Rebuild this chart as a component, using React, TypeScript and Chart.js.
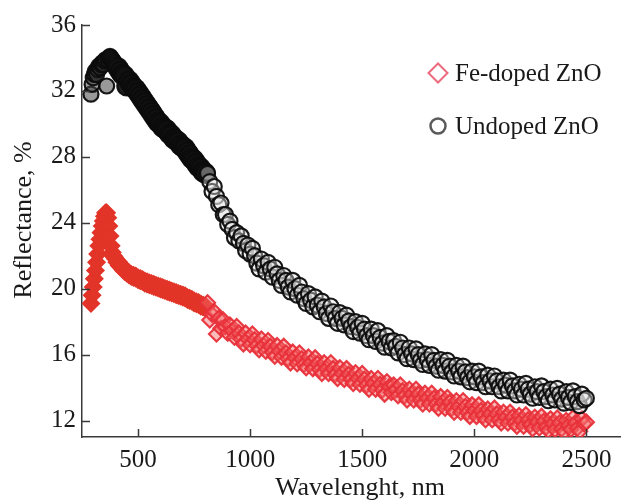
import React, { useEffect, useRef } from 'react';
import { Chart, registerables } from 'chart.js';

Chart.register(...registerables);

// ---------------- data ----------------
const WAVELENGTHS = [
  290, 295, 300, 305, 310, 315, 320, 325, 330, 335, 340, 345, 350, 355, 360, 365, 370, 375, 380, 385, 390, 395, 400,
  410, 420, 430, 440, 450, 460, 470, 480, 490, 500, 510, 520, 530, 540, 550, 560, 570, 580, 590, 600,
  610, 620, 630, 640, 650, 660, 670, 680, 690, 700, 710, 720, 730, 740, 750, 760, 770, 780, 790, 800,
  810, 820, 830, 840, 850, 860, 870, 880, 890, 900,
  910, 920, 930, 940, 950, 960, 970, 980, 990, 1000,
  1010, 1020, 1030, 1040, 1050, 1060, 1070, 1080, 1090, 1100,
  1110, 1120, 1130, 1140, 1150, 1160, 1170, 1180, 1190, 1200,
  1210, 1220, 1230, 1240, 1250, 1260, 1270, 1280, 1290, 1300,
  1310, 1320, 1330, 1340, 1350, 1360, 1370, 1380, 1390, 1400,
  1410, 1420, 1430, 1440, 1450, 1460, 1470, 1480, 1490, 1500,
  1510, 1520, 1530, 1540, 1550, 1560, 1570, 1580, 1590, 1600,
  1610, 1620, 1630, 1640, 1650, 1660, 1670, 1680, 1690, 1700,
  1710, 1720, 1730, 1740, 1750, 1760, 1770, 1780, 1790, 1800,
  1810, 1820, 1830, 1840, 1850, 1860, 1870, 1880, 1890, 1900,
  1910, 1920, 1930, 1940, 1950, 1960, 1970, 1980, 1990, 2000,
  2010, 2020, 2030, 2040, 2050, 2060, 2070, 2080, 2090, 2100,
  2110, 2120, 2130, 2140, 2150, 2160, 2170, 2180, 2190, 2200,
  2210, 2220, 2230, 2240, 2250, 2260, 2270, 2280, 2290, 2300,
  2310, 2320, 2330, 2340, 2350, 2360, 2370, 2380, 2390, 2400,
  2410, 2420, 2430, 2440, 2450, 2460, 2470, 2480, 2490, 2500,
];

const FE_DOPED = [
  19.1, 19.6, 20.1, 20.6, 21.1, 21.6, 22.1, 22.6, 23.0, 23.4, 23.8, 24.1, 24.4, 24.6, 24.6, 24.3, 23.8, 23.2, 22.6, 22.2, 22.0, 21.9, 21.8,
  21.6, 21.4, 21.3, 21.1, 21.0, 20.9, 20.8, 20.75, 20.7, 20.6, 20.55, 20.5, 20.4, 20.35, 20.3, 20.25, 20.2, 20.15, 20.1, 20.05,
  20.0, 19.95, 19.9, 19.85, 19.8, 19.75, 19.7, 19.65, 19.6, 19.55, 19.5, 19.4, 19.35, 19.3, 19.2, 19.15, 19.1, 19.0, 18.95, 18.9,
  19.15, 18.1, 18.45, 18.6, 17.25, 18.2, 17.6, 18.1, 17.7, 17.3,
  17.8, 17.45, 17.05, 17.7, 17.3, 16.95, 16.65, 17.3, 16.95, 16.6,
  17.25, 16.9, 16.55, 16.3, 16.95, 16.55, 16.2, 16.85, 16.5, 16.15,
  15.9, 16.55, 16.2, 15.85, 16.5, 16.1, 15.75, 15.5, 16.15, 15.8,
  15.45, 16.1, 15.75, 15.4, 15.2, 15.85, 15.5, 15.15, 15.8, 15.45,
  15.1, 14.85, 15.5, 15.15, 14.85, 15.5, 15.15, 14.8, 14.55, 15.2,
  14.85, 14.5, 15.15, 14.8, 14.5, 14.25, 14.9, 14.55, 14.2, 14.85,
  14.5, 14.15, 13.9, 14.55, 14.25, 13.9, 14.55, 14.2, 13.85, 13.6,
  14.35, 14.05, 13.7, 14.15, 13.85, 13.5, 14.15, 13.8, 13.5, 13.25,
  13.9, 13.6, 13.25, 13.9, 13.6, 13.25, 13.0, 13.65, 13.35, 13.0,
  13.65, 13.35, 13.0, 12.75, 13.45, 13.1, 12.75, 13.4, 13.1, 12.75,
  12.5, 13.2, 12.85, 12.5, 13.2, 12.85, 12.5, 12.25, 12.95, 12.6,
  12.25, 12.95, 12.6, 12.3, 12.05, 12.7, 12.4, 12.05, 12.75, 12.4,
  12.05, 11.85, 12.5, 12.2, 11.85, 12.5, 12.2, 11.85, 11.65, 12.3,
  12.0, 11.65, 12.35, 12.05, 11.75, 11.5, 12.2, 11.9, 11.55, 12.25,
  11.95, 11.6, 11.4, 12.1, 11.8, 11.45, 12.15, 11.85, 11.5, 11.3,
  12.0, 11.7, 11.45, 12.15, 11.85, 11.55, 11.35, 12.1, 11.8, 11.9,
];

const UNDOPED = [
  31.8, 32.4, 32.8, 33.0, 33.2, 33.0, 33.3, 33.5, 33.4, 33.6, 33.7, 33.6, 33.8, 33.9, 32.3, 33.9, 34.0, 34.1, 34.0, 33.9, 33.8, 33.7, 33.6,
  33.4, 33.2, 33.0, 32.9, 32.3, 32.6, 32.4, 32.2, 32.1, 31.9, 31.7, 31.5, 31.3, 31.1, 30.9, 30.7, 30.5, 30.3, 30.1, 30.0,
  29.8, 29.7, 29.6, 29.4, 29.3, 29.1, 29.0, 28.9, 28.7, 28.6, 28.5, 28.3, 28.1, 27.9, 27.8, 27.6, 27.4, 27.3, 27.1, 27.0,
  27.0, 26.5, 25.9, 26.2, 25.6, 25.1, 25.2, 24.5, 24.5, 23.9,
  24.1, 23.6, 23.1, 23.4, 22.9, 23.2, 22.75, 22.3, 22.65, 22.1,
  22.45, 22.0, 21.55, 21.2, 21.8, 21.4, 21.0, 21.6, 21.2, 20.7,
  21.3, 20.9, 20.5, 20.2, 20.8, 20.5, 20.1, 19.8, 20.5, 20.0,
  19.6, 20.2, 19.8, 19.4, 19.1, 19.7, 19.3, 18.9, 19.5, 19.0,
  18.6, 19.25, 18.9, 18.5, 18.2, 18.95, 18.6, 18.2, 17.9, 18.55,
  18.2, 17.8, 18.4, 18.05, 17.7, 17.4, 18.0, 17.65, 17.3, 17.9,
  17.55, 17.15, 16.9, 17.55, 17.15, 16.8, 17.45, 17.05, 16.7, 16.45,
  17.15, 16.8, 16.4, 16.85, 16.5, 16.1, 16.75, 16.4, 16.0, 15.75,
  16.4, 16.05, 15.7, 16.35, 16.0, 15.65, 15.4, 16.05, 15.7, 15.35,
  16.0, 15.65, 15.3, 15.05, 15.7, 15.35, 15.0, 15.65, 15.3, 14.95,
  14.7, 15.35, 15.0, 14.65, 15.3, 14.95, 14.6, 14.35, 15.0, 14.65,
  14.3, 15.0, 14.65, 14.3, 14.05, 14.75, 14.4, 14.05, 14.7, 14.4,
  14.05, 13.8, 14.45, 14.15, 13.8, 14.45, 14.1, 13.8, 13.55, 14.2,
  13.9, 13.55, 14.25, 13.9, 13.6, 13.35, 14.05, 13.75, 13.4, 14.1,
  13.75, 13.45, 13.2, 13.9, 13.55, 13.25, 13.95, 13.6, 13.3, 13.05,
  13.75, 13.4, 13.1, 13.8, 13.45, 13.15, 12.9, 13.6, 13.25, 13.35,
];

const X_TICKS = [500, 1000, 1500, 2000, 2500];
const Y_TICKS = [12, 16, 20, 24, 28, 32, 36];
const X_RANGE = [250, 2650];
const Y_RANGE = [11, 36];
const X_TITLE = 'Wavelenght, nm';
const Y_TITLE = 'Reflectance, %';
const SERIES_NAMES = ['Fe-doped ZnO', 'Undoped ZnO'];
const PEAK_LIMIT = 400; // nm
const DENSE_LIMIT = 800; // nm: below this the measured points overlap into a solid band

// ---------------- styles ----------------
const FONT = "'Liberation Serif', 'Times New Roman', serif";
const TEXT = '#1a1a1a';
const AXIS = '#3a3a3a';

const toPoints = (vals: number[]) => WAVELENGTHS.map((w, i) => ({ x: w, y: vals[i] }));

const decorPlugin = {
  id: 'decor',
  afterDraw(chart: any) {
    const { ctx, chartArea: a, scales } = chart;
    const x = scales.x;
    const y = scales.y;
    ctx.save();
    ctx.strokeStyle = AXIS;
    ctx.lineWidth = 1.5;
    x.ticks.forEach((t: any) => {
      const px = Math.round(x.getPixelForValue(t.value)) + 0.5;
      ctx.beginPath();
      ctx.moveTo(px, a.bottom);
      ctx.lineTo(px, a.bottom - 8);
      ctx.stroke();
    });
    y.ticks.forEach((t: any) => {
      const py = Math.round(y.getPixelForValue(t.value)) + 0.5;
      ctx.beginPath();
      ctx.moveTo(a.left, py);
      ctx.lineTo(a.left + 8, py);
      ctx.stroke();
    });
    ctx.fillStyle = TEXT;
    ctx.font = `26px ${FONT}`;
    ctx.textAlign = 'center';
    ctx.textBaseline = 'middle';
    ctx.fillText(X_TITLE, (a.left + a.right) / 2 + 9, a.bottom + 51);
    ctx.save();
    ctx.translate(24, (a.top + a.bottom) / 2 - 11);
    ctx.rotate(-Math.PI / 2);
    ctx.fillText(Y_TITLE, 0, 0);
    ctx.restore();
    const lx = a.right - 182;
    const ly1 = a.top + 48;
    const ly2 = a.top + 101;
    ctx.lineWidth = 2;
    ctx.strokeStyle = '#ec6a7e';
    ctx.fillStyle = '#ffffff';
    ctx.beginPath();
    ctx.moveTo(lx - 9.5, ly1);
    ctx.lineTo(lx, ly1 - 9.5);
    ctx.lineTo(lx + 9.5, ly1);
    ctx.lineTo(lx, ly1 + 9.5);
    ctx.closePath();
    ctx.fill();
    ctx.stroke();
    ctx.lineWidth = 2.5;
    ctx.strokeStyle = '#5a5a5a';
    ctx.beginPath();
    ctx.arc(lx, ly2, 7.5, 0, Math.PI * 2);
    ctx.fill();
    ctx.stroke();
    ctx.fillStyle = TEXT;
    ctx.font = `25px ${FONT}`;
    ctx.textAlign = 'left';
    ctx.fillText(SERIES_NAMES[0], lx + 17, ly1 + 1);
    ctx.fillText(SERIES_NAMES[1], lx + 17, ly2 + 1);
    ctx.restore();
  },
};

const wlOf = (c: any) => (c.raw ? (c.raw as { x: number }).x : 9999);

export default function App() {
  const canvasRef = useRef<HTMLCanvasElement | null>(null);

  useEffect(() => {
    const canvas = canvasRef.current;
    if (!canvas) return;
    const chart = new Chart(canvas, {
      type: 'scatter',
      data: {
        datasets: [
          {
            label: SERIES_NAMES[1],
            data: toPoints(UNDOPED),
            pointStyle: 'circle',
            pointRadius: (c: any) => {
              const w = wlOf(c);
              return w <= PEAK_LIMIT ? 7.5 : w <= DENSE_LIMIT ? 9.5 : 7.5;
            },
            pointBorderWidth: 2.2,
            pointBorderColor: 'rgba(12,12,12,0.95)',
            pointBackgroundColor: (c: any) => {
              const w = wlOf(c);
              return w <= PEAK_LIMIT ? 'rgba(70,70,70,0.55)' : w <= DENSE_LIMIT ? 'rgba(18,18,18,0.95)' : 'rgba(230,230,230,0.4)';
            },
          },
          {
            label: SERIES_NAMES[0],
            data: toPoints(FE_DOPED),
            pointStyle: 'rectRot',
            pointRadius: (c: any) => {
              const w = wlOf(c);
              return w <= PEAK_LIMIT ? 8 : w <= DENSE_LIMIT ? 9 : 7.5;
            },
            pointBorderWidth: 2.2,
            pointBorderColor: (c: any) => (wlOf(c) <= DENSE_LIMIT ? 'rgba(226,52,40,1)' : 'rgba(232,48,58,0.95)'),
            pointBackgroundColor: (c: any) => (wlOf(c) <= DENSE_LIMIT ? 'rgba(226,52,40,1)' : 'rgba(245,105,105,0.45)'),
          },
        ],
      },
      options: {
        animation: false,
        responsive: false,
        devicePixelRatio: 1,
        layout: { padding: { left: 0, right: 16, top: 25, bottom: 0 } },
        plugins: {
          legend: { display: false },
          tooltip: { enabled: false },
        },
        scales: {
          x: {
            type: 'linear',
            min: X_RANGE[0],
            max: X_RANGE[1],
            afterFit: (s: any) => {
              s.height = 65;
            },
            afterBuildTicks: (s: any) => {
              s.ticks = X_TICKS.map((v) => ({ value: v }));
            },
            grid: { display: true, drawOnChartArea: false, drawTicks: false },
            border: { display: true, color: AXIS, width: 1.5 },
            ticks: {
              autoSkip: false,
              maxRotation: 0,
              padding: 8,
              color: TEXT,
              font: { family: FONT, size: 25 },
              callback: (v: any) => String(v),
            },
          },
          y: {
            type: 'linear',
            min: Y_RANGE[0],
            max: Y_RANGE[1],
            afterFit: (s: any) => {
              s.width = 82;
            },
            afterBuildTicks: (s: any) => {
              s.ticks = Y_TICKS.map((v) => ({ value: v }));
            },
            grid: { display: true, drawOnChartArea: false, drawTicks: false },
            border: { display: true, color: AXIS, width: 1.5 },
            ticks: {
              autoSkip: false,
              padding: 6,
              color: TEXT,
              font: { family: FONT, size: 25 },
              callback: (v: any) => String(v),
            },
          },
        },
      },
      plugins: [decorPlugin],
    } as any);
    return () => chart.destroy();
  }, []);

  return (
    <div style={{ position: 'absolute', left: 0, top: 0, width: 636, height: 502, background: '#fff' }}>
      <canvas ref={canvasRef} width={636} height={502} style={{ display: 'block' }} />
    </div>
  );
}
